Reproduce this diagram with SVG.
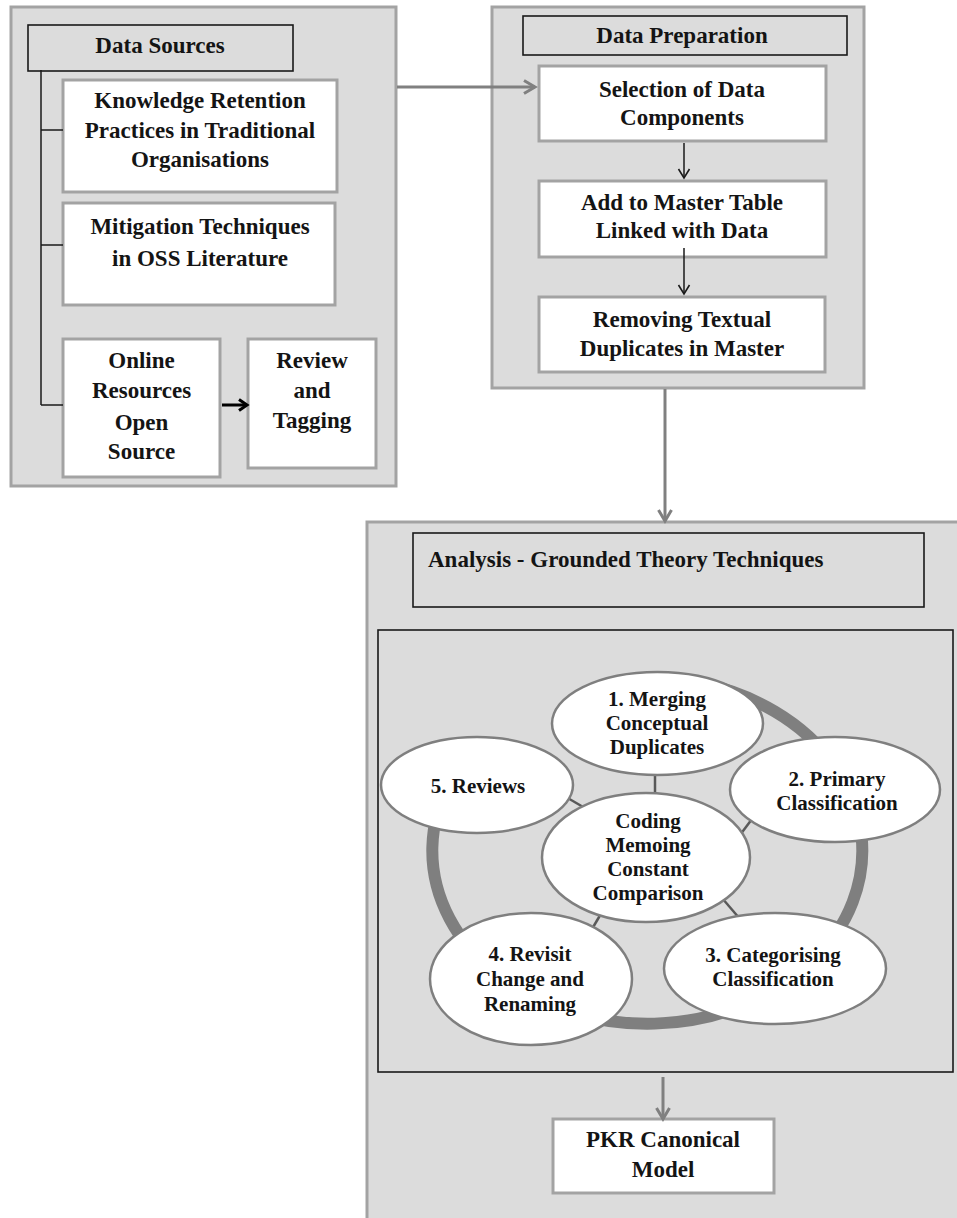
<svg xmlns="http://www.w3.org/2000/svg" width="957" height="1218" viewBox="0 0 957 1218">
  <style>
    .panel { fill: #dcdcdc; stroke: #a3a3a3; stroke-width: 3; }
    .head { fill: #dcdcdc; stroke: #1a1a1a; stroke-width: 1.6; }
    .box { fill: #ffffff; stroke: #a3a3a3; stroke-width: 3; }
    .oval { fill: #ffffff; stroke: #7f7f7f; stroke-width: 2.5; }
    .t { font-family: "Liberation Serif", "Times New Roman", serif; font-weight: bold; font-size: 23px; fill: #141414; text-anchor: middle; }
    .o { font-size: 21px; }
    .tl { text-anchor: start; }
    .ring { fill: none; stroke: #7f7f7f; stroke-width: 12; }
    .spoke { stroke: #595959; stroke-width: 2.5; }
    .cg { stroke: #808080; stroke-width: 3; fill: none; }
    .cb { stroke: #1a1a1a; stroke-width: 1.5; fill: none; }
    .cbb { stroke: #000000; stroke-width: 3; fill: none; }
  </style>
  <defs>
    <marker id="ahGray" markerUnits="userSpaceOnUse" markerWidth="16" markerHeight="16" refX="13" refY="8" orient="auto">
      <path d="M2,1.5 L13,8 L2,14.5" fill="none" stroke="#808080" stroke-width="3"/>
    </marker>
    <marker id="ahBlack" markerUnits="userSpaceOnUse" markerWidth="14" markerHeight="14" refX="11" refY="7" orient="auto">
      <path d="M2,1.5 L11,7 L2,12.5" fill="none" stroke="#1a1a1a" stroke-width="1.6"/>
    </marker>
    <marker id="ahBold" markerUnits="userSpaceOnUse" markerWidth="14" markerHeight="14" refX="11" refY="7" orient="auto">
      <path d="M3,1.5 L11,7 L3,12.5" fill="none" stroke="#000000" stroke-width="3"/>
    </marker>
  </defs>

  <!-- panels -->
  <g id="panel-sources">
    <rect class="panel" x="11" y="7" width="385" height="479"/>
  </g>
  <g id="panel-preparation">
    <rect class="panel" x="492" y="7" width="372" height="381"/>
  </g>
  <g id="panel-analysis">
    <rect class="panel" x="367" y="522" width="600" height="720"/>
  </g>

  <!-- Data Sources -->
  <g id="sources-head">
    <rect class="head" x="28" y="25" width="265" height="46"/>
    <text class="t" x="160" y="53">Data Sources</text>
  </g>
  <g id="knowledge-retention">
    <rect class="box" x="63" y="80" width="274" height="112"/>
    <text class="t" x="200" y="108">Knowledge Retention</text>
    <text class="t" x="200" y="138">Practices in Traditional</text>
    <text class="t" x="200" y="167">Organisations</text>
  </g>
  <g id="mitigation">
    <rect class="box" x="63" y="203" width="272" height="102"/>
    <text class="t" x="200" y="234">Mitigation Techniques</text>
    <text class="t" x="200" y="266">in OSS Literature</text>
  </g>
  <g id="online-resources">
    <rect class="box" x="63" y="339" width="157" height="138"/>
    <text class="t" x="141.5" y="368">Online</text>
    <text class="t" x="141.5" y="398">Resources</text>
    <text class="t" x="141.5" y="430">Open</text>
    <text class="t" x="141.5" y="459">Source</text>
  </g>
  <g id="review-tagging">
    <rect class="box" x="248" y="339" width="128" height="129"/>
    <text class="t" x="312" y="368">Review</text>
    <text class="t" x="312" y="398">and</text>
    <text class="t" x="312" y="428">Tagging</text>
  </g>

  <!-- Data Preparation -->
  <g id="preparation-head">
    <rect class="head" x="523" y="16" width="324" height="39"/>
    <text class="t" x="682" y="43">Data Preparation</text>
  </g>
  <g id="selection">
    <rect class="box" x="539" y="66" width="287" height="75"/>
    <text class="t" x="682" y="97">Selection of Data</text>
    <text class="t" x="682" y="125">Components</text>
  </g>
  <g id="master-table">
    <rect class="box" x="539" y="181" width="287" height="76"/>
    <text class="t" x="682" y="210">Add to Master Table</text>
    <text class="t" x="682" y="238">Linked with Data</text>
  </g>
  <g id="remove-duplicates">
    <rect class="box" x="539" y="297" width="286" height="75"/>
    <text class="t" x="682" y="327">Removing Textual</text>
    <text class="t" x="682" y="356">Duplicates in Master</text>
  </g>

  <!-- Analysis -->
  <g id="analysis-head">
    <rect class="head" x="413" y="533" width="511" height="74"/>
    <text class="t tl" x="428" y="567">Analysis - Grounded Theory Techniques</text>
  </g>
  <g id="analysis-cycle">
    <rect class="head" x="378" y="630" width="575" height="442"/>
    <!-- cycle ring, open between step 5 and step 1 -->
    <path class="ring" d="M700,683 A215,173 0 1 1 450,782"/>
    <line class="spoke" x1="655" y1="770" x2="655" y2="798"/>
    <line class="spoke" x1="737" y1="839" x2="752" y2="819"/>
    <line class="spoke" x1="722" y1="898" x2="740" y2="919"/>
    <line class="spoke" x1="602" y1="912" x2="592" y2="929"/>
    <line class="spoke" x1="566" y1="797" x2="590" y2="811"/>
  </g>
  <g id="merging">
    <ellipse class="oval" cx="657.5" cy="723.5" rx="105.5" ry="51.5"/>
    <text class="t o" x="657" y="706">1. Merging</text>
    <text class="t o" x="657" y="730">Conceptual</text>
    <text class="t o" x="657" y="754">Duplicates</text>
  </g>
  <g id="primary-classification">
    <ellipse class="oval" cx="835" cy="789.5" rx="105" ry="52.5"/>
    <text class="t o" x="837" y="786">2. Primary</text>
    <text class="t o" x="837" y="810">Classification</text>
  </g>
  <g id="categorising">
    <ellipse class="oval" cx="775" cy="968.5" rx="111" ry="55.5"/>
    <text class="t o" x="773" y="962">3. Categorising</text>
    <text class="t o" x="773" y="986">Classification</text>
  </g>
  <g id="revisit">
    <ellipse class="oval" cx="531" cy="979" rx="101" ry="66"/>
    <text class="t o" x="530" y="961">4. Revisit</text>
    <text class="t o" x="530" y="986">Change and</text>
    <text class="t o" x="530" y="1011">Renaming</text>
  </g>
  <g id="reviews">
    <ellipse class="oval" cx="477" cy="785" rx="96" ry="48"/>
    <text class="t o" x="478" y="793">5. Reviews</text>
  </g>
  <g id="coding">
    <ellipse class="oval" cx="646" cy="857.5" rx="104" ry="64.5"/>
    <text class="t o" x="648" y="828">Coding</text>
    <text class="t o" x="648" y="852">Memoing</text>
    <text class="t o" x="648" y="876">Constant</text>
    <text class="t o" x="648" y="900">Comparison</text>
  </g>
  <g id="pkr-model">
    <rect class="box" x="553" y="1119" width="221" height="74"/>
    <text class="t" x="663" y="1147">PKR Canonical</text>
    <text class="t" x="663" y="1177">Model</text>
  </g>

  <!-- connectors -->
  <g id="connectors">
    <path class="cb" d="M41,70 V405 M41,130 H63 M41,245 H63 M41,405 H63"/>
    <line class="cbb" x1="222" y1="405" x2="247" y2="405" marker-end="url(#ahBold)"/>
    <line class="cg" x1="397" y1="87" x2="535" y2="87" marker-end="url(#ahGray)"/>
    <line class="cb" x1="684" y1="143" x2="684" y2="178" marker-end="url(#ahBlack)"/>
    <line class="cb" x1="684" y1="248" x2="684" y2="294" marker-end="url(#ahBlack)"/>
    <line class="cg" x1="665" y1="389" x2="665" y2="521" marker-end="url(#ahGray)"/>
    <line class="cg" x1="663" y1="1077" x2="663" y2="1119" marker-end="url(#ahGray)"/>
  </g>
</svg>
